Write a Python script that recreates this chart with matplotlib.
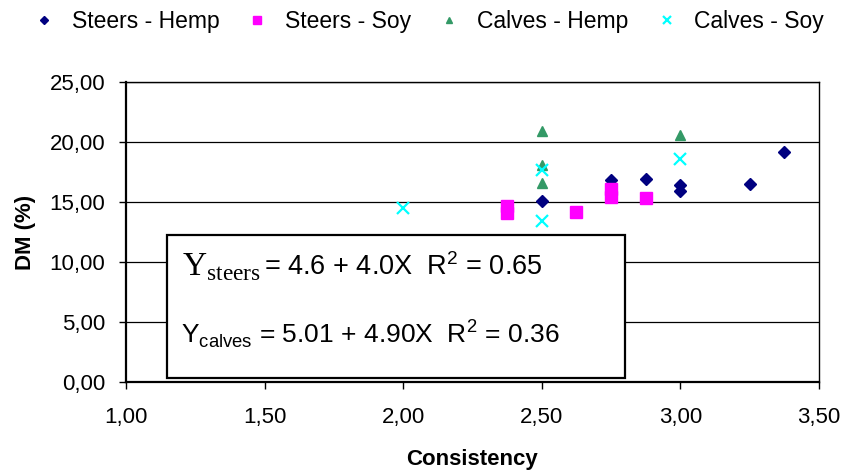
import matplotlib
matplotlib.use("Agg")
import matplotlib.pyplot as plt
from matplotlib.ticker import FuncFormatter
from matplotlib.patches import Rectangle

plt.rcParams['font.family'] = ['Liberation Sans', 'DejaVu Sans']
plt.rcParams['mathtext.fontset'] = 'custom'
plt.rcParams['mathtext.rm'] = 'Liberation Serif'
plt.rcParams['mathtext.sf'] = 'Liberation Sans'

# data
steers_hemp_x = [2.5, 2.75, 2.75, 2.875, 3.0, 3.0, 3.25, 3.375]
steers_hemp_y = [15.1, 16.8, 15.9, 16.9, 16.4, 15.9, 16.5, 19.2]
steers_soy_x = [2.375, 2.375, 2.625, 2.75, 2.75, 2.875]
steers_soy_y = [14.7, 14.1, 14.2, 16.1, 15.4, 15.3]
calves_hemp_x = [2.5, 2.5, 2.5, 3.0]
calves_hemp_y = [20.9, 18.1, 16.6, 20.6]
calves_soy_x = [2.0, 2.5, 2.5, 3.0]
calves_soy_y = [14.5, 17.7, 13.4, 18.6]

x_ticks = [1.0, 1.5, 2.0, 2.5, 3.0, 3.5]
y_ticks = [0, 5, 10, 15, 20, 25]

fig = plt.figure(figsize=(8.46, 4.71), dpi=100)
ax = fig.add_axes([0.149, 0.189, 0.819, 0.637])

ax.plot(steers_hemp_x, steers_hemp_y, 'D', color='#000080', ms=5.8, ls='none', label='Steers - Hemp', zorder=3)
ax.plot(steers_soy_x, steers_soy_y, 's', color='#FF00FF', ms=8, ls='none', label='Steers - Soy', zorder=3)
ax.plot(calves_hemp_x, calves_hemp_y, '^', color='#339966', ms=7, ls='none', label='Calves - Hemp', zorder=3)
ax.plot(calves_soy_x, calves_soy_y, 'x', color='#00FFFF', ms=8, mew=1.6, ls='none', label='Calves - Soy', zorder=3)

ax.set_xlim(1.0, 3.5)
ax.set_ylim(0, 25)
ax.set_xticks(x_ticks)
ax.set_yticks(y_ticks)
fmt = FuncFormatter(lambda v, p: f"{v:.2f}".replace('.', ','))
ax.xaxis.set_major_formatter(fmt)
ax.yaxis.set_major_formatter(fmt)
ax.tick_params(direction='out', length=5, width=1, labelsize=16)
ax.tick_params(axis='x', pad=13)
ax.tick_params(axis='y', pad=10)
ax.yaxis.grid(True, color='black', lw=0.9)
ax.set_axisbelow(True)
for s in ['left', 'bottom']:
    ax.spines[s].set_linewidth(1.6)
for s in ['top', 'right']:
    ax.spines[s].set_linewidth(1.0)

ax.set_xlabel('Consistency', fontsize=16, fontweight='bold', labelpad=15)
ax.set_ylabel('DM (%)', fontsize=16, fontweight='bold', labelpad=10)

# equation box
ax.add_patch(Rectangle((0.059, 0.013), 0.661, 0.477, transform=ax.transAxes,
                       facecolor='white', edgecolor='black', lw=1.6, zorder=2))
t1 = ax.text(0.081, 0.357, r'$\mathrm{Y}_{\mathrm{steers}}$', transform=ax.transAxes,
             fontsize=24, va='baseline', ha='left', zorder=4)
ax.annotate(r'= 4.6 + 4.0X  R$^{\mathsf{2}}$ = 0.65', xy=(1.0, 0.357),
            xycoords=(t1, 'axes fraction'), xytext=(2, 0), textcoords='offset points',
            fontsize=19.5, va='baseline', ha='left', zorder=4)
ax.text(0.08, 0.13, r'$\mathsf{Y}_{\mathsf{calves}}$ = 5.01 + 4.90X  R$^{\mathsf{2}}$ = 0.36',
        transform=ax.transAxes, fontsize=19.0, va='baseline', ha='left', zorder=4)

fig.legend(loc='upper left', bbox_to_anchor=(0.0384, 0.978), ncol=4, frameon=False,
           fontsize=16.5, markerscale=0.7, handlelength=1.0, handletextpad=0.72,
           columnspacing=1.15, borderpad=0, borderaxespad=0)

fig.savefig('out.png', dpi=100)
